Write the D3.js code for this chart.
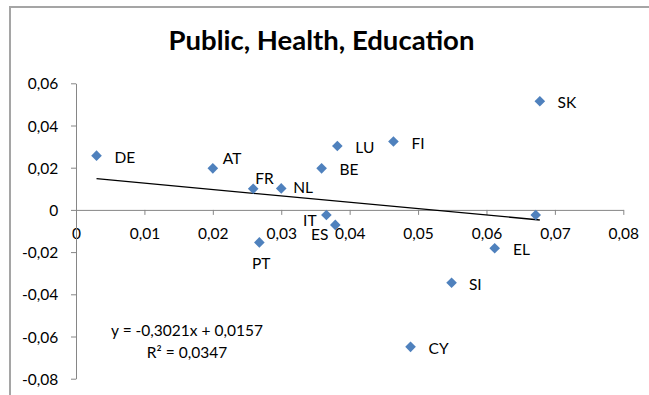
<!DOCTYPE html>
<html>
<head>
<meta charset="utf-8">
<script src="https://cdn.jsdelivr.net/npm/d3@7"></script>
<style>
  html, body { margin: 0; padding: 0; background: #fff; }
  svg { display: block; }
  text { font-family: Lato, "Open Sans", sans-serif; fill: #000; }
</style>
</head>
<body>
<svg id="chart" width="649" height="395"></svg>
<script>
// Country codes and their (x, y) values
const countries = ["DE", "AT", "FR", "NL", "BE", "LU", "FI", "SK", "", "IT", "ES", "PT", "EL", "SI", "CY"];
const xValues = [0.0030, 0.0200, 0.0259, 0.0300, 0.0359, 0.0382, 0.0464, 0.0678, 0.0672, 0.0366, 0.0379, 0.0268, 0.0612, 0.0549, 0.0489];
const yValues = [0.0257, 0.0197, 0.0100, 0.0102, 0.0197, 0.0303, 0.0324, 0.0515, -0.0024, -0.0024, -0.0071, -0.0154, -0.0182, -0.0345, -0.0649];

// Linear trend fitted to the points
const slope = -0.3021;
const intercept = 0.0157;
const rSquared = 0.0347;

const xTicks = [0, 0.01, 0.02, 0.03, 0.04, 0.05, 0.06, 0.07, 0.08];
const yTicks = [0.06, 0.04, 0.02, 0, -0.02, -0.04, -0.06, -0.08];
const title = "Public, Health, Education";

// Label placement relative to each marker (text start, caption centre)
const labelOffset = {
  DE: [18, 1.7], AT: [10, -10], FR: [2, -10], NL: [12, -1], BE: [18, 1],
  LU: [18, 1.4], FI: [18, 1.7], SK: [17.7, 1.3], IT: [-23.3, 5.7], ES: [-24.3, 9.3],
  PT: [-7.3, 21], EL: [18.4, 1.3], SI: [17.3, 2], CY: [18, 1.4]
};

const fmt = v => (v === 0 ? "0" : d3.format(".2f")(v).replace(".", ",").replace("−", "-"));
const fmtEq = v => String(Math.abs(v)).replace(".", ",");

const svg = d3.select("#chart");
const fs = 15.5;

// Outer chart frame (left and top edges)
svg.append("path")
  .attr("d", "M10,395 V7 H649")
  .attr("fill", "none")
  .attr("stroke", "#a5a5a5")
  .attr("stroke-width", 2);

svg.append("text")
  .attr("x", 321.5).attr("y", 50)
  .attr("text-anchor", "middle")
  .style("font-size", "27.5px").style("font-weight", "bold")
  .text(title);

const x = d3.scaleLinear().domain([0, 0.08]).range([76, 623.3]);
const y = d3.scaleLinear().domain([-0.08, 0.06]).range([378.7, 83.3]);

const axisColor = "#868686";

// Horizontal axis crossing at y = 0
const gx = svg.append("g").attr("transform", `translate(0,${y(0)})`)
  .call(d3.axisBottom(x).tickValues(xTicks).tickSize(5).tickSizeOuter(0).tickFormat(fmt));
gx.select(".domain").attr("stroke", axisColor);
gx.selectAll(".tick line").attr("stroke", axisColor);
gx.selectAll(".tick text")
  .attr("y", 0).attr("dy", 0)
  .attr("transform", "translate(0,29)")
  .style("font-size", fs + "px").style("font-family", "Lato, sans-serif");

// Vertical axis at x = 0
const gy = svg.append("g").attr("transform", `translate(${x(0)},0)`)
  .call(d3.axisLeft(y).tickValues(yTicks).tickSize(5).tickSizeOuter(0).tickFormat(fmt));
gy.select(".domain").attr("stroke", axisColor);
gy.selectAll(".tick line").attr("stroke", axisColor);
gy.selectAll(".tick text")
  .attr("x", -17.7).attr("dy", "0.36em")
  .style("font-size", fs + "px").style("font-family", "Lato, sans-serif");

// Trend line over the range of x values
const [xMin, xMax] = d3.extent(xValues);
svg.append("line")
  .attr("x1", x(xMin)).attr("y1", y(slope * xMin + intercept))
  .attr("x2", x(xMax)).attr("y2", y(slope * xMax + intercept))
  .attr("stroke", "#000").attr("stroke-width", 1.3);

// Diamond markers
const diamond = d3.symbol().type(d3.symbolDiamond2).size(72);
const pts = countries.map((c, i) => ({ c, xv: xValues[i], yv: yValues[i] }));
svg.append("g").selectAll("path").data(pts).join("path")
  .attr("d", diamond)
  .attr("transform", d => `translate(${x(d.xv)},${y(d.yv)})`)
  .attr("fill", "#4f81bd");

// Country labels
svg.append("g").selectAll("text").data(pts.filter(d => d.c)).join("text")
  .attr("x", d => x(d.xv) + labelOffset[d.c][0])
  .attr("y", d => y(d.yv) + labelOffset[d.c][1])
  .attr("dy", "0.36em")
  .style("font-size", fs + "px")
  .text(d => d.c);

// Regression equation
const eq = svg.append("text").attr("text-anchor", "middle").style("font-size", fs + "px");
eq.append("tspan").attr("x", 187).attr("y", 336.3)
  .text(`y = ${slope < 0 ? "-" : ""}${fmtEq(slope)}x + ${fmtEq(intercept)}`);
eq.append("tspan").attr("x", 187).attr("y", 358.3)
  .text(`R² = ${fmtEq(rSquared)}`);
</script>
</body>
</html>
